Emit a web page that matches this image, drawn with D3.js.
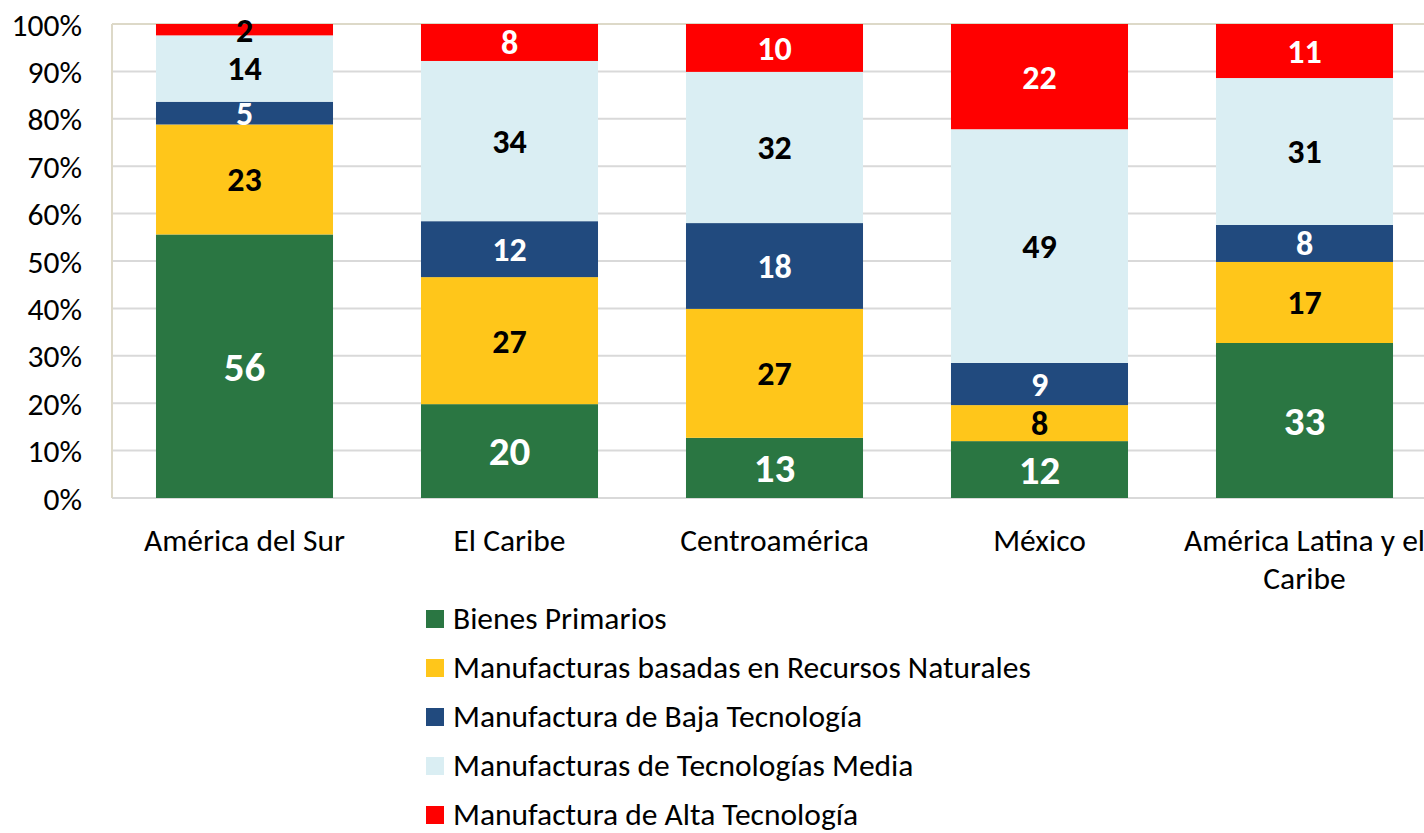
<!DOCTYPE html>
<html><head><meta charset="utf-8">
<script src="https://cdn.jsdelivr.net/npm/d3@7"></script>
<style>
body{margin:0;background:#fff;}
text{font-family:Carlito,Calibri,Lato,"Open Sans",sans-serif;}
</style></head>
<body><svg id="c" width="1424" height="833"></svg>
<script>
const categories = ["América del Sur","El Caribe","Centroamérica","México","América Latina y el Caribe"];
const series = ["Bienes Primarios","Manufacturas basadas en Recursos Naturales","Manufactura de Baja Tecnología","Manufacturas de Tecnologías Media","Manufactura de Alta Tecnología"];
const primarios   = [55.6, 19.8, 12.7, 12.0, 32.7];
const recursos    = [23.2, 26.8, 27.2, 7.6, 17.1];
const baja        = [4.8, 11.8, 18.1, 8.9, 7.8];
const media       = [14.0, 33.8, 31.9, 49.3, 31.0];
const alta        = [2.4, 7.8, 10.1, 22.2, 11.4];
const yTicks = [0,10,20,30,40,50,60,70,80,90,100];

const colors = ["#2a7642","#ffc61a","#214a7e","#daeef3","#ff0000"];
const labelColors = ["#fff","#000","#fff","#000","#fff"];
const seriesVals = [primarios, recursos, baja, media, alta];

const svg = d3.select("#c");
const x = d3.scaleBand().domain(categories).range([112, 1437]).paddingInner(0.332).paddingOuter(0.166);
const y = d3.scaleLinear().domain([0,100]).range([498, 24]);

// gridlines
svg.append("g").selectAll("line").data(yTicks).join("line")
  .attr("x1",112).attr("x2",1424).attr("y1",d=>y(d)).attr("y2",d=>y(d))
  .attr("stroke",d=>d===100?"#ddd9c8":"#d9d9d9").attr("stroke-width",2);
svg.append("line").attr("x1",112).attr("x2",112).attr("y1",y(100)).attr("y2",y(0))
  .attr("stroke","#ddd9c8").attr("stroke-width",2);

// y axis
const yAxis = d3.axisLeft(y).tickValues(yTicks).tickFormat(d=>d+"%").tickSize(0).tickPadding(30);
const ya = svg.append("g").attr("transform","translate(112,0)").call(yAxis);
ya.select(".domain").remove();
ya.selectAll("text").attr("font-size",31.5).attr("fill","#000").attr("dy","0.35em").attr("x",-30)
  .style("font-family","Carlito,Calibri,Lato,sans-serif");

// stack
const rows = categories.map((c,i)=>{const o={cat:c}; series.forEach((s,j)=>o[s]=seriesVals[j][i]); return o;});
const stack = d3.stack().keys(series)(rows);

const g = svg.append("g");
stack.forEach((layer,j)=>{
  g.append("g").selectAll("rect").data(layer).join("rect")
    .attr("x",d=>x(d.data.cat)).attr("width",x.bandwidth())
    .attr("y",d=>y(d[1])).attr("height",d=>y(d[0])-y(d[1]))
    .attr("fill",colors[j]);
});
stack.forEach((layer,j)=>{
  g.append("g").selectAll("text").data(layer).join("text")
    .attr("x",d=>x(d.data.cat)+x.bandwidth()/2)
    .attr("y",d=>(y(d[0])+y(d[1]))/2)
    .attr("dy","0.35em").attr("text-anchor","middle")
    .attr("font-weight","bold").attr("font-size",j===0?41:34)
    .attr("fill",(d,i)=> (j===4 && i===0) ? "#000" : labelColors[j])
    .text(d=>Math.round(d[1]-d[0]));
});

// x axis labels
const xl = svg.append("g");
categories.forEach(c=>{
  const cx = x(c)+x.bandwidth()/2;
  const lines = c==="América Latina y el Caribe" ? ["América Latina y el","Caribe"] : [c];
  lines.forEach((t,k)=>{
    xl.append("text").attr("x",cx).attr("y",551+k*38).attr("text-anchor","middle")
      .attr("font-size",31.5).attr("fill","#000").text(t);
  });
});

// legend
const lg = svg.append("g");
series.forEach((s,j)=>{
  const cy = 618 + j*49;
  lg.append("rect").attr("x",426).attr("y",cy-8).attr("width",18).attr("height",18).attr("fill",colors[j]);
  lg.append("text").attr("x",453).attr("y",cy).attr("dy","0.35em").attr("font-size",31.5).attr("fill","#000").text(s);
});
</script></body></html>
